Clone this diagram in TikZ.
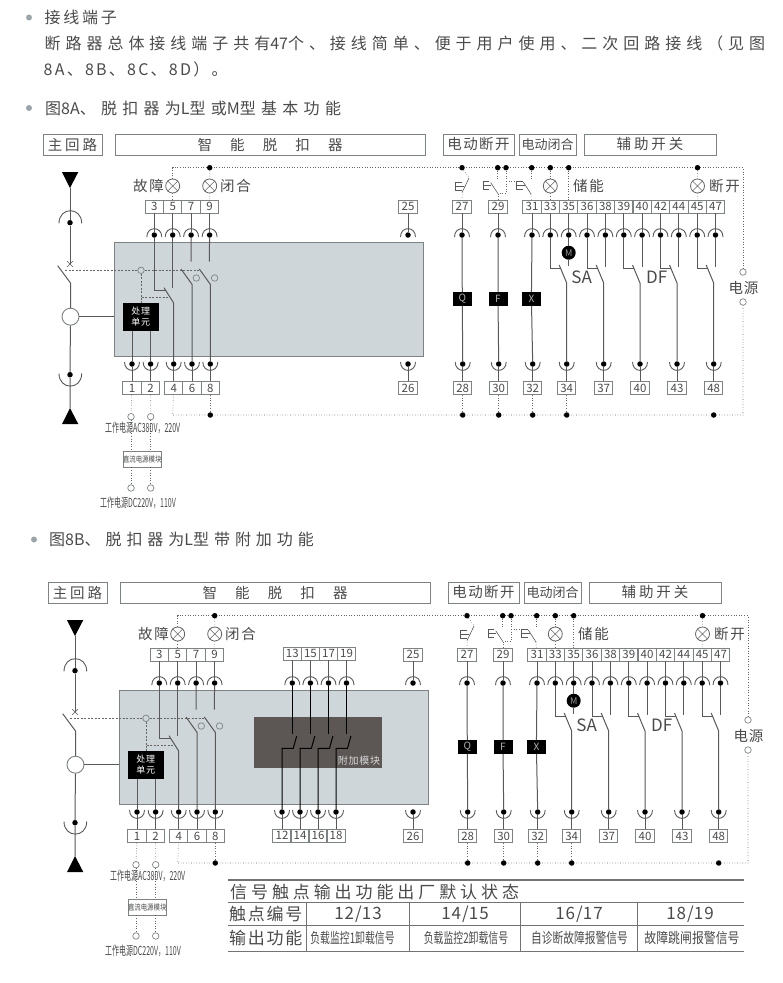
\documentclass[tikz,border=0pt]{standalone}
\usepackage{fontspec}
\setmainfont{Noto Sans CJK SC}
\usetikzlibrary{positioning}
\definecolor{inkgrey}{HTML}{4A4A4A}
\definecolor{rimgrey}{HTML}{7D8284}
\definecolor{panelgrey}{HTML}{CFD6D9}
\definecolor{modulegrey}{HTML}{5C5655}
\definecolor{bulletgrey}{HTML}{9BA6AB}
\newcommand{\fs}[2]{\fontsize{#1}{#1}\selectfont\addfontfeature{LetterSpace=#2}}
\newcommand{\narrow}[2]{\scalebox{#1}[1]{#2}}
\newcommand{\lat}[1]{{\addfontfeature{LetterSpace=0}#1}}
\tikzset{
	txt/.style = {inner sep=0, text=inkgrey},
	headbox/.style = {draw=rimgrey, line width=.9pt, inner sep=0, minimum height=21pt, text=inkgrey},
	term/.style = {draw=rimgrey, line width=.9pt, inner sep=0, minimum width=18.4pt, minimum height=13pt, text=inkgrey, font=\fs{11.5}{0}},
	dot/.style = {circle, fill=black, inner sep=0, minimum size=5.5pt},
	ring/.style = {circle, draw=rimgrey, line width=.7pt, inner sep=0, minimum size=6.5pt},
	lamp/.style = {circle, draw=black!60, line width=.8pt, inner sep=0, minimum size=14pt},
	blackbox/.style = {fill=black, inner sep=0, minimum width=19pt, minimum height=13.5pt, text=white!70!black, font=\fs{10}{0}},
	wire/.style = {draw=black!65, line width=1pt},
	cup/.style = {draw=black!65, line width=.9pt},
	ctrl/.style = {draw=black!60, line width=.6pt, dotted},
	mech/.style = {draw=black!60, line width=.5pt, dash pattern=on 2pt off 1.5pt},
}
\newcommand{\topcup}[1]{\draw[cup] ([shift={(-7.5pt,-2pt)}]#1.center) to[out=90,in=90,looseness=1.9] ([shift={(7.5pt,-2pt)}]#1.center);}
\newcommand{\botcup}[1]{\draw[cup] ([shift={(-7.5pt,2pt)}]#1.center) to[out=-90,in=-90,looseness=1.9] ([shift={(7.5pt,2pt)}]#1.center);}
\newcommand{\breaker}[3]{
	\begin{scope}[shift={(#2,#3)}, name prefix=#1-]
		\node[headbox, minimum width=59pt, font=\fs{14.5}{20}] (mainhead) at (72.5,144.5) {主回路};
		\node[headbox, minimum width=310pt, font=\fs{14.5}{125}] (triphead) at (270,144.5) {智能脱扣器};
		\node[headbox, minimum width=71pt, font=\fs{14.5}{10}] (openhead) at (478.5,144.5) {电动断开};
		\node[headbox, minimum width=57pt, font=\fs{13}{0}] (closehead) at (547.5,144.5) {电动闭合};
		\node[headbox, minimum width=132pt, font=\fs{14.5}{20}] (auxhead) at (650,144.5) {辅助开关};
		\node[draw=rimgrey, line width=.9pt, fill=panelgrey, inner sep=0, minimum width=309pt, minimum height=114pt] (panel) at (268.5,299) {};
		\foreach \lab/\xx in {3/154.3,5/172.7,7/191.1,9/209.6,25/408,27/462,29/498,31/532,33/550.3,35/568.7,36/587,38/605.4,39/623.8,40/642.1,42/660.5,44/678.8,45/697.2,47/715.5}{
			\node[term] (t\lab) at (\xx,206.5) {\lab};
			\node[dot] (tc\lab) at (\xx,235) {};
			\topcup{tc\lab}
			\draw[wire, line width=.7pt] (t\lab) -- (tc\lab);
		}
		\foreach \lab/\xx in {1/132,2/150.6,4/173.7,6/192,8/210.3,26/408,28/462.7,30/498.7,32/532.7,34/566.7,37/603.7,40/640,43/677,48/713.7}{
			\node[term] (b\lab) at (\xx,388) {\lab};
			\node[dot] (bc\lab) at (\xx,364) {};
			\botcup{bc\lab}
			\draw[wire, line width=.7pt] (b\lab) -- (bc\lab);
		}
		\fill[black] (62,172) -- (78.3,172) -- (70,188) -- cycle;
		\fill[black] (62,424) -- (78.3,424) -- (70,408) -- cycle;
		\coordinate (feedtop) at (70,188);
		\coordinate (feedbot) at (70,408);
		\node[dot] (maintop) at (70,222.7) {};
		\node[dot] (mainbot) at (70,374.7) {};
		\draw[cup] (59,223.3) to[out=90,in=90,looseness=1.9] (81.7,223.3);
		\draw[cup] (59,373.5) to[out=-90,in=-90,looseness=1.9] (81.7,373.5);
		\node[circle, draw=rimgrey, fill=white, line width=.9pt, inner sep=0, minimum size=17pt] (sensor) at (70.5,316.7) {};
		\coordinate (mainfix) at (70,264);
		\coordinate (mainarm) at (57.7,265.7);
		\coordinate (mainpin) at (70.5,283);
		\draw[wire] (feedtop) -- (maintop) -- (mainfix);
		\draw[wire, line width=.5pt] (67,261) -- (73,267) (67,267) -- (73,261);
		\draw[wire] (mainarm) -- (mainpin) -- (sensor) -- (mainbot) -- (feedbot);
		\draw[wire] (sensor) -- (panel.west |- sensor);
		\node[fill=black, inner sep=0, minimum width=35.7pt, minimum height=27.7pt, align=center, text=white, font=\fs{9}{8}] (proc) at (140.8,316.8) {处理\\[2pt]单元};
		\node[ring, fill=panelgrey] (trip) at (141,270.3) {};
		\coordinate (mechleft) at (65,270.3);
		\coordinate (mechright) at (200,270.3);
		\coordinate (mechdrop) at (141,297.7);
		\coordinate (mechend) at (168,297.7);
		\draw[mech] (mechleft) -- (trip) -- (mechright);
		\draw[mech] (trip) -- (mechdrop) -- (mechend);
		\draw[mech] (mechdrop) -- (proc.north -| mechdrop);
		\draw[wire] (proc.south -| bc1) -- (bc1);
		\draw[wire] (proc.south -| bc2) -- (bc2);
		\coordinate (fknee) at (154.3,290);
		\coordinate (fjoin) at (166.3,290);
		\coordinate (farm) at (164,287.7);
		\coordinate (fpin) at (173.5,302.7);
		\coordinate (fstop) at (172.7,288);
		\draw[wire] (tc3) -- (fknee) -- (fjoin);
		\draw[wire] (tc5) -- (fstop);
		\draw[wire] (farm) -- (fpin) -- (bc4);
		\foreach \lab/\low/\xx in {7/6/192,9/8/210.3}{
			\coordinate (stop\lab) at (\xx-1,261.7);
			\coordinate (arm\lab) at (\xx-11,269);
			\coordinate (pin\lab) at (\xx,284.3);
			\node[ring] (aux\lab) at (\xx+4.3,278) {};
			\draw[wire] (tc\lab) -- (stop\lab);
			\draw[wire] (arm\lab) -- (pin\lab) -- (bc\low);
		}
		\node[blackbox] (q) at (462.3,299) {Q};
		\node[blackbox] (f) at (498,299) {F};
		\node[blackbox] (x) at (531.4,299) {X};
		\draw[wire] (tc27) -- (q) -- (bc28);
		\draw[wire] (tc29) -- (f) -- (bc30);
		\draw[wire] (tc31) -- (x) -- (bc32);
		\foreach \lab/\low/\xx in {33/34/566.7,36/37/603.7,39/40/640,42/43/677,45/48/713.7}{
			\coordinate (knee\lab) at (\xx-6,268);
			\coordinate (arm\lab) at (\xx-7.5,265);
			\coordinate (pin\lab) at (\xx,283);
			\draw[wire] (tc\lab) |- (knee\lab);
			\draw[wire] (arm\lab) -- (pin\lab) -- (bc\low);
		}
		\foreach \lab in {38,40,44,47}{
			\coordinate (stop\lab) at ([yshift=-31.7pt]tc\lab.center);
			\draw[wire] (tc\lab) -- (stop\lab);
		}
		\node[circle, fill=black, inner sep=0, minimum size=14pt, text=white!60!black, font=\fs{9}{0}] (motor) at (568.7,252.7) {M};
		\coordinate (motorend) at (568.7,266);
		\draw[wire] (tc35) -- (motor) -- (motorend);
		\node[txt, font=\fs{17}{0}] (salabel) at (581.7,277) {SA};
		\node[txt, font=\fs{17}{0}] (dflabel) at (656.7,277) {DF};
		\foreach \nm/\xx in {fault/172.7,shut/209.7,store/550.3,trip/697.5}{
			\node[lamp] (l\nm) at (\xx,186) {};
			\draw[draw=black!60, line width=.6pt] (l\nm.north west) -- (l\nm.south east) (l\nm.north east) -- (l\nm.south west);
		}
		\node[txt, font=\fs{14.5}{12}] (faultlabel) at (148.5,186) {故障};
		\node[txt, font=\fs{14.5}{12}] (shutlabel) at (235.5,186) {闭合};
		\node[txt, font=\fs{14.5}{12}] (storelabel) at (588.5,186) {储能};
		\node[txt, font=\fs{14.5}{12}] (triplabel) at (724.5,186) {断开};
		\node[txt, font=\fs{14.5}{6}] (powerlabel) at (743.5,288) {电源};
		\coordinate (topleft) at (172.7,167.7);
		\coordinate (topright) at (743,167.7);
		\coordinate (botleft) at (172.7,415);
		\coordinate (botright) at (743,415);
		\node[ring] (power1) at (743,272) {};
		\node[ring] (power2) at (743,302) {};
		\draw[ctrl] (lfault) -- (topleft) -- (topright) -- (power1);
		\draw[ctrl] (power2) -- (botright) -- (botleft) -- (b4);
		\draw[ctrl] (lfault) -- (t5);
		\foreach \nm/\xx in {shut/209.7,open/462,t29/497.7,t29b/506,t31/531.7,store/550.3,t35/568.7,trip/697.5}{
			\node[dot] (top\nm) at (\xx,167.7) {};
		}
		\foreach \nm/\xx in {b8/210.3,b28/462.7,b30/498.7,b32/532.7,b34/566.7,b48/713.7}{
			\node[dot] (bot\nm) at (\xx,415) {};
		}
		\foreach \nm in {b8,b28,b30,b32,b34}{
			\draw[ctrl] (\nm) -- (bot\nm);
		}
		\draw[ctrl] (topshut) -- (lshut) -- (t9);
		\draw[ctrl] (topstore) -- (lstore) -- (t33);
		\draw[ctrl] (toptrip) -- (ltrip) -- (t45);
		\draw[ctrl] (topt35) -- (t35);
		\foreach \nm/\xx/\yy in {open/455.7/182,sea/483.3/181,ret/516.7/181}{
			\draw[wire, line width=.6pt] (\xx+6,\yy) -- (\xx,\yy) -- (\xx,\yy+8.5) -- (\xx+6,\yy+8.5) (\xx,\yy+4.2) -- (\xx+8,\yy+4.2);
		}
		\coordinate (opena) at (469,178);
		\coordinate (openb) at (462.3,192);
		\draw[wire, line width=.6pt] (opena) -- (openb);
		\draw[ctrl] (topopen) -- (opena);
		\draw[ctrl] (openb) -- (t27);
		\coordinate (seaa) at (490.7,182.7);
		\coordinate (seab) at (498,193.7);
		\coordinate (seac) at (506,193.7);
		\coordinate (sead) at (506,181.5);
		\coordinate (seae) at (497.7,181);
		\coordinate (retfeed) at (516.7,181.5);
		\draw[wire, line width=.6pt] (seaa) -- (seab);
		\draw[ctrl] (topt29) -- (seae);
		\draw[ctrl] (topt29b) -- (seac) -- (seab) -- (t29);
		\draw[ctrl] (sead) -- (retfeed);
		\coordinate (reta) at (523.3,182);
		\coordinate (retb) at (531,194);
		\coordinate (retc) at (531.7,181);
		\draw[wire, line width=.6pt] (reta) -- (retb);
		\draw[ctrl] (topt31) -- (retc);
		\draw[ctrl] (retb) -- (t31);
		\node[ring] (ac1) at (131,416.7) {};
		\node[ring] (ac2) at (150.7,416.7) {};
		\node[ring] (dc1) at (131,488) {};
		\node[ring] (dc2) at (150.7,488) {};
		\node[draw=rimgrey, line width=.8pt, fill=white, inner sep=0, minimum width=34.3pt, minimum height=16pt, text=inkgrey, font=\fs{8}{0}] (dcmod) at (142.2,459) {\narrow{.8}{直流电源模块}};
		\draw[ctrl] (b1) -- (ac1);
		\draw[ctrl] (b2) -- (ac2);
		\draw[ctrl] (ac1) -- (ac1 |- dcmod.north);
		\draw[ctrl] (ac2) -- (ac2 |- dcmod.north);
		\draw[ctrl] (ac1 |- dcmod.south) -- (dc1);
		\draw[ctrl] (ac2 |- dcmod.south) -- (dc2);
		\node[txt, font=\fs{12.5}{0}] (aclabel) at (142.7,428) {\narrow{.56}{工作电源AC380V，220V}};
		\node[txt, font=\fs{12.5}{0}] (dclabel) at (138,503) {\narrow{.56}{工作电源DC220V，110V}};
	\end{scope}
}
\begin{document}
\begin{tikzpicture}[x=1pt, y=-1pt]
	\useasboundingbox (0,0) rectangle (783,983);
	\node[circle, fill=bulletgrey, inner sep=0, minimum size=6pt] (bullet1) at (29,17.5) {};
	\node[txt, anchor=west, font=\fs{16}{17}] (intro1) at (44.5,17.5) {接线端子};
	\node[txt, anchor=west, font=\fs{16}{31}] (intro2) at (44.5,43) {断路器总体接线端子共有\lat{47}个、接线简单、便于用户使用、二次回路接线（见图};
	\node[txt, anchor=west, font=\fs{16}{14}] (intro3) at (43.5,69.5) {8A、8B、8C、8D）。};
	\node[circle, fill=bulletgrey, inner sep=0, minimum size=6pt] (bullet2) at (29,108) {};
	\node[txt, anchor=west, font=\fs{16}{33}] (figa) at (45,108) {图\lat{8A}、脱扣器为\lat{L}型或\lat{M}型基本功能};
	\breaker{A}{0}{0}
	\node[circle, fill=bulletgrey, inner sep=0, minimum size=6pt] (bullet3) at (34,539.5) {};
	\node[txt, anchor=west, font=\fs{16}{31}] (figb) at (49,539.5) {图\lat{8B}、脱扣器为\lat{L}型带附加功能};
	\breaker{B}{5}{448}
	\begin{scope}[shift={(5,448)}, name prefix=B-]
		\node[fill=modulegrey, inner sep=0, minimum width=128pt, minimum height=51.3pt] (module) at (313,294.3) {};
		\node[inner sep=0, text=white!85!black, font=\fs{10}{8}] (modulelabel) at (354,313) {附加模块};
		\foreach \up/\ux/\lo/\lx in {13/287.3/12/277,15/305.4/14/295,17/323.5/16/313,19/341.5/18/331}{
			\node[term] (t\up) at (\ux,205.5) {\up};
			\node[dot] (tc\up) at (\ux,235) {};
			\topcup{tc\up}
			\node[term] (b\lo) at (\lx,387.5) {\lo};
			\node[dot] (bc\lo) at (\lx,364) {};
			\botcup{bc\lo}
			\coordinate (stop\up) at (\ux,286);
			\coordinate (arm\up) at (\ux+4.4,288);
			\coordinate (pin\up) at (\ux+1,300.3);
			\coordinate (knee\up) at (\lx,300.3);
			\draw[wire, line width=.7pt] (t\up) -- (tc\up);
			\draw[wire, draw=black] (tc\up) -- (stop\up);
			\draw[wire, draw=black] (arm\up) -- (pin\up) -- (knee\up) -- (bc\lo);
			\draw[wire, line width=.7pt] (b\lo) -- (bc\lo);
		}
	\end{scope}
	\foreach \yy/\wd in {880/1.2pt,902.3/1pt,925/.7pt,951/.8pt}{
		\draw[draw=black!55, line width=\wd] (228,\yy) -- (744,\yy);
	}
	\foreach \xx in {306,409,520,637}{
		\draw[draw=black!55, line width=.7pt] (\xx,902.3) -- (\xx,951);
	}
	\node[txt, anchor=west, font=\fs{17}{23}] (tabletitle) at (230,892) {信号触点输出功能出厂默认状态};
	\node[txt, anchor=west, font=\fs{17}{10}] (rownum) at (229,914) {触点编号};
	\node[txt, anchor=west, font=\fs{17}{10}] (rowout) at (229,938) {输出功能};
	\foreach \nm/\xx/\lab in {a/358/12\slash 13,b/465/14\slash 15,c/579/16\slash 17,d/690/18\slash 19}{
		\node[txt, font=\fs{17}{6}] (num\nm) at (\xx,914) {\lab};
	}
	\node[txt, font=\fs{14.5}{0}] (outa) at (352.5,938) {\narrow{.68}{负载监控1卸载信号}};
	\node[txt, font=\fs{14.5}{0}] (outb) at (466,938) {\narrow{.68}{负载监控2卸载信号}};
	\node[txt, font=\fs{14.5}{0}] (outc) at (579.5,938) {\narrow{.74}{自诊断故障报警信号}};
	\node[txt, font=\fs{14.5}{0}] (outd) at (692,938) {\narrow{.82}{故障跳闸报警信号}};
\end{tikzpicture}
\end{document}
